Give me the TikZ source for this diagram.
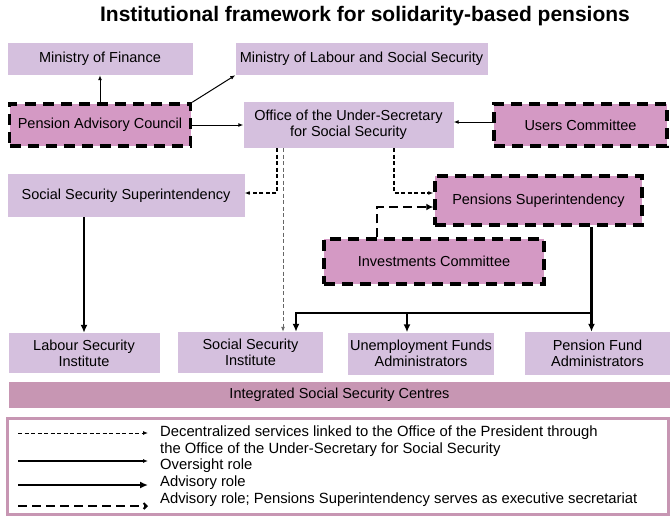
\documentclass[tikz,border=0pt]{standalone}
\usepackage{fontspec}
\setmainfont{Liberation Sans}
\usepackage{xcolor}
\usepackage{tikz}
\usetikzlibrary{arrows.meta,positioning,calc}

\definecolor{boxlilac}{RGB}{213,192,222}
\definecolor{boxpink}{RGB}{212,153,196}
\definecolor{barrose}{RGB}{199,150,179}
\newcommand{\unitfont}{\fontsize{14.5}{16}\selectfont}
\newcommand{\keyfont}{\fontsize{14.8}{17}\selectfont}

\tikzset{
  unitbox/.style={fill=#1,inner sep=2pt,align=center,font=\unitfont},
  councilbox/.style={unitbox=boxpink,draw=black,line width=3.5pt,
    dash pattern=on 11pt off 7pt}
}

\begin{document}
\begin{tikzpicture}[x=1pt,y=-1pt,
  thinarrow/.style={-{Latex[length=5pt,width=4pt]},line width=1pt},
  advisory/.style={-{Latex[length=8pt,width=7pt]},line width=2.4pt},
  decentral/.style={-{Latex[length=5pt,width=4pt]},line width=1.1pt,
    dash pattern=on 4pt off 2.5pt},
  secretariat/.style={-{Latex[length=7pt,width=7pt]},line width=2.4pt,
    dash pattern=on 9pt off 5pt}
]
  \useasboundingbox (0,0) rectangle (670,517);

  \node[font=\bfseries\fontsize{21}{24}\selectfont] (title) at (365,16)
    {Institutional framework for solidarity-based pensions};

  % ministries, councils and the under-secretary
  \node[unitbox=boxlilac,minimum width=185pt,minimum height=32pt] (finance) at (100,59) {Ministry of Finance};
  \node[unitbox=boxlilac,minimum width=252pt,minimum height=32pt] (minlab) at (361.5,59) {Ministry of Labour and Social Security};
  \node[councilbox,minimum width=181pt,minimum height=42pt] (pac) at (100,125) {Pension Advisory Council};
  \node[unitbox=boxlilac,minimum width=210pt,minimum height=46pt] (office) at (348.5,125) {Office of the Under-Secretary\\for Social Security};
  \node[councilbox,minimum width=173pt,minimum height=42pt] (users) at (580.5,125) {Users Committee};

  % superintendencies
  \node[unitbox=boxlilac,minimum width=237pt,minimum height=43pt] (sss) at (126,195.5) {Social Security Superintendency};
  \node[councilbox,minimum width=207pt,minimum height=49pt] (psup) at (538.5,200.5) {Pensions Superintendency};
  \node[councilbox,minimum width=220pt,minimum height=45pt] (invest) at (434,261.5) {Investments Committee};

  % institutes and administrators
  \node[unitbox=boxlilac,minimum width=151pt,minimum height=40pt] (lsi) at (84,353) {Labour Security\\Institute};
  \node[unitbox=boxlilac,minimum width=145pt,minimum height=41pt] (ssi) at (250.5,352.5) {Social Security\\Institute};
  \node[unitbox=boxlilac,minimum width=146pt,minimum height=42pt] (ufa) at (421,353.5) {Unemployment Funds\\Administrators};
  \node[unitbox=boxlilac,minimum width=145pt,minimum height=43pt] (pfa) at (597.5,353.5) {Pension Fund\\Administrators};
  \node[unitbox=barrose,minimum width=661pt,minimum height=26pt] (iscc) at (339.5,395) {Integrated Social Security Centres};

  % links
  \draw[thinarrow] (pac) -- (finance);
  \draw[thinarrow] (pac.north east) -- (minlab.south west);
  \draw[thinarrow] (pac) -- (office);
  \draw[thinarrow] ([yshift=3pt]users.west) -- ([yshift=3pt]office.east);
  \draw[decentral] ([xshift=-71.5pt]office.south) |- ([yshift=2.5pt]sss.east);
  \draw[decentral,gray!80!black,line width=0.9pt] ([xshift=-65.5pt]office.south) -- ([xshift=32.5pt]ssi.north);
  \draw[decentral] ([xshift=45.5pt]office.south) |- ([yshift=7.5pt]psup.west);
  \draw[secretariat] ([xshift=-57pt]invest.north) |- ([yshift=-6.5pt]psup.west);

  \draw[advisory] ([xshift=-42pt]sss.south) -- (lsi.north);
  \coordinate (split) at ([xshift=53pt]psup.south |- 0,313);
  \draw[advisory] ([xshift=53pt]psup.south) -- (split |- pfa.north);
  \draw[advisory] (split) -| ([xshift=45.5pt]ssi.north);
  \draw[advisory] (split -| ufa.north) ++(-14,0) coordinate (ufatap) -- (ufatap |- ufa.north);

  % key
  \node[draw=barrose,line width=3pt,fill=white,minimum width=661pt,minimum height=96pt] (key) at (338,466) {};
  \coordinate (k1a) at (18,433);  \coordinate (k1b) at (148,433);
  \coordinate (k2a) at (18,461);  \coordinate (k2b) at (148,461);
  \coordinate (k3a) at (18,485);  \coordinate (k3b) at (148,485);
  \coordinate (k4a) at (18,506);  \coordinate (k4b) at (148,506);
  \draw[decentral,line width=0.9pt] (k1a) -- (k1b);
  \draw[thinarrow,line width=1.2pt] (k2a) -- (k2b);
  \draw[advisory,line width=2pt] (k3a) -- (k3b);
  \draw[secretariat,line width=2pt,-{Straight Barb[length=3pt,width=6pt]}] (k4a) -- (k4b);
  \node[anchor=west,align=left,inner sep=0pt,font=\keyfont] (key1) at (160,441.5)
    {Decentralized services linked to the Office of the President through\\the Office of the Under-Secretary for Social Security};
  \node[anchor=west,inner sep=0pt,font=\keyfont] (key2) at (160,466) {Oversight role};
  \node[anchor=west,inner sep=0pt,font=\keyfont] (key3) at (160,483) {Advisory role};
  \node[anchor=west,inner sep=0pt,font=\keyfont] (key4) at (160,499.5) {Advisory role; Pensions Superintendency serves as executive secretariat};
\end{tikzpicture}
\end{document}
